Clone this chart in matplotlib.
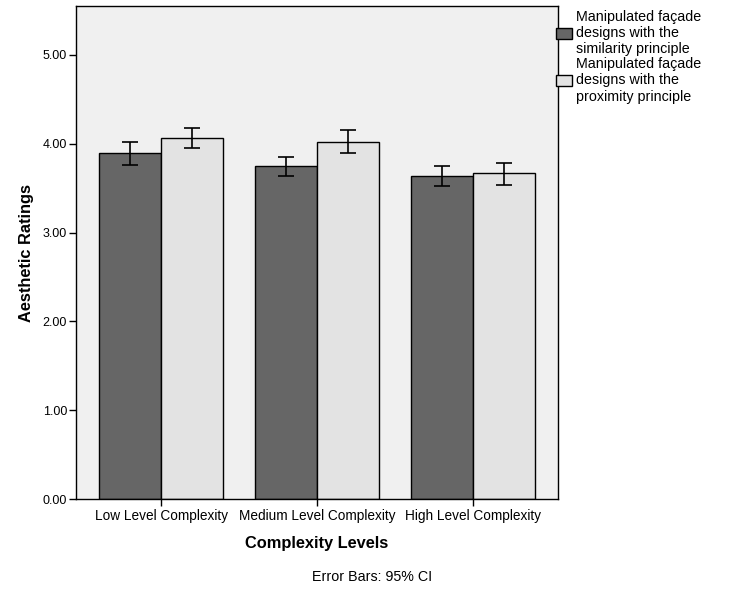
import matplotlib
matplotlib.use("Agg")
import matplotlib.pyplot as plt
import numpy as np

plt.rcParams['font.family'] = ['Liberation Sans', 'DejaVu Sans']

categories = ["Low Level Complexity", "Medium Level Complexity", "High Level Complexity"]
similarity = [3.89, 3.75, 3.64]
similarity_lo = [3.76, 3.64, 3.52]
similarity_hi = [4.02, 3.85, 3.75]
proximity = [4.06, 4.02, 3.67]
proximity_lo = [3.95, 3.90, 3.54]
proximity_hi = [4.18, 4.15, 3.78]
series_labels = ["Manipulated façade\ndesigns with the\nsimilarity principle",
                 "Manipulated façade\ndesigns with the\nproximity principle"]
yticks = [0, 1, 2, 3, 4, 5]

fig = plt.figure(figsize=(7.46, 5.97), dpi=100)
ax = fig.add_axes([76/746, 1-499/597, (558-76)/746, (499-6)/597])
ax.set_facecolor('#f0f0f0')

x = np.arange(len(categories))
w = 0.397
sim = np.array(similarity); prox = np.array(proximity)
err_s = [sim - np.array(similarity_lo), np.array(similarity_hi) - sim]
err_p = [prox - np.array(proximity_lo), np.array(proximity_hi) - prox]

ax.bar(x - w/2, sim, w, color='#666666', edgecolor='black', linewidth=1.0, label=series_labels[0], zorder=2)
ax.bar(x + w/2, prox, w, color='#e3e3e3', edgecolor='black', linewidth=1.0, label=series_labels[1], zorder=2)
ax.errorbar(x - w/2, sim, yerr=err_s, fmt='none', ecolor='black', elinewidth=1.2, capsize=5.5, capthick=1.2, zorder=3)
ax.errorbar(x + w/2, prox, yerr=err_p, fmt='none', ecolor='black', elinewidth=1.2, capsize=5.5, capthick=1.2, zorder=3)

ax.set_xlim(-0.545, 2.545)
ax.set_ylim(0, 5.55)
ax.set_yticks(yticks)
ax.set_yticklabels([f"{v:.2f}" for v in yticks], fontsize=9)
ax.set_xticks(x)
ax.set_xticklabels(categories, fontsize=9.8)
ax.tick_params(axis='y', direction='out', length=5, width=1, color='black', pad=1.5)
ax.tick_params(axis='x', direction='out', length=5, width=1, color='black', pad=2.5)
for s in ax.spines.values():
    s.set_color('black'); s.set_linewidth(1.0)

ax.set_ylabel("Aesthetic Ratings", fontsize=11.8, fontweight='bold', labelpad=6)
ax.set_xlabel("Complexity Levels", fontsize=11.8, fontweight='bold', labelpad=9)

fig.text(372/746, 1-577/597, "Error Bars: 95% CI", ha='center', va='center', fontsize=10.3)

fig.legend(loc='upper left', bbox_to_anchor=(556/746, 1-10/597), frameon=False,
           fontsize=10.3, handlelength=1.1, handleheight=0.8, handletextpad=0.3,
           labelspacing=0.05, borderaxespad=0, borderpad=0)
for t in fig.legends[0].get_texts():
    t.set_linespacing(1.2)

fig.savefig("out.png", dpi=100)
